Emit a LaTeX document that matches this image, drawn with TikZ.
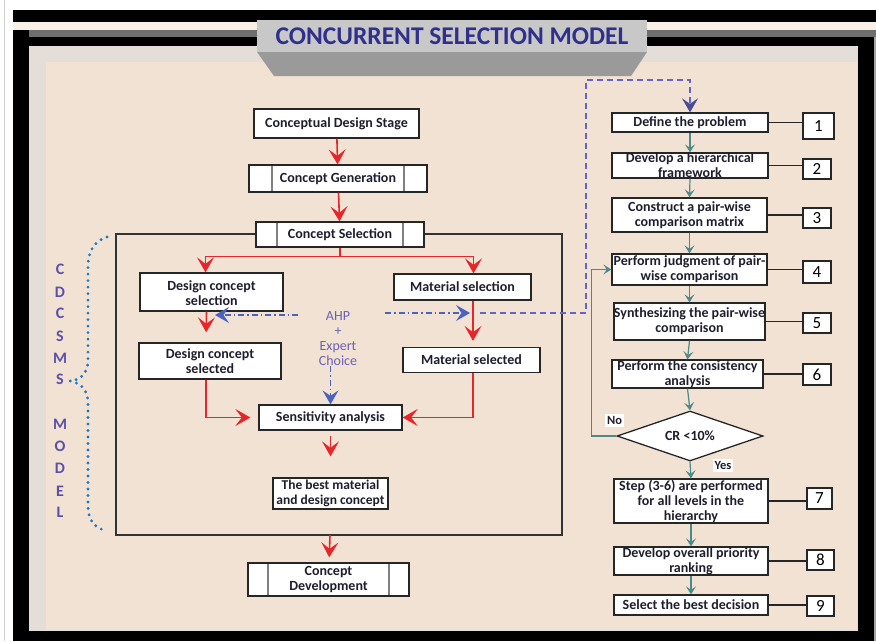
\documentclass[tikz,border=0pt]{standalone}
\usepackage{fontspec}
\setmainfont{Carlito}
\usetikzlibrary{arrows.meta,shapes.geometric,positioning}

\definecolor{pagebg}{HTML}{F2E2D3}
\definecolor{panelgray}{HTML}{E5DDD7}
\definecolor{bandgray}{HTML}{6E6E6E}
\definecolor{titlegray}{HTML}{C8C8C8}
\definecolor{titleshade}{HTML}{9A9A9A}
\definecolor{titleblue}{HTML}{30308C}
\definecolor{arrowred}{HTML}{E8252B}
\definecolor{stepteal}{HTML}{4C8A8A}
\definecolor{ahpblue}{HTML}{4C63BE}
\definecolor{ahptext}{HTML}{6C60B8}
\definecolor{dashblue}{HTML}{6464C8}
\definecolor{letterblue}{HTML}{5A50AA}
\definecolor{bracedot}{HTML}{1F78C0}
\definecolor{boxtext}{HTML}{1E1E2E}

\newcommand{\flowtxt}[2]{\makebox[0pt]{\smash{\raisebox{-0.25em}{\parbox[c]{#1}{\centering #2}}}}}

\tikzset{
  plainbox/.style={draw=black!85, line width=1.3pt, fill=white, inner sep=0pt, text=boxtext,
    font=\fontsize{14}{15}\selectfont\bfseries},
  procbox/.style={plainbox, path picture={
    \draw[gray, line width=1.6pt]
      ([xshift=#1]path picture bounding box.north west) -- ([xshift=#1]path picture bounding box.south west)
      ([xshift=-#1]path picture bounding box.north east) -- ([xshift=-#1]path picture bounding box.south east);}},
  stepbox/.style={plainbox},
  numbox/.style={draw=black!85, line width=1.3pt, fill=white, inner sep=0pt,
    font=\fontsize{17}{17}\selectfont},
  redarrow/.style={draw=arrowred, line width=1.6pt,
    -{Stealth[length=15pt, width=17pt, inset=6.5pt]}},
  tealarrow/.style={draw=stepteal, line width=1.2pt,
    -{Stealth[length=8pt, width=10pt, inset=3.5pt]}},
  ahpline/.style={draw=ahpblue, line width=1.2pt, dash pattern=on 6pt off 3pt on 1.5pt off 3pt,
    -{Stealth[length=14pt, width=16pt, inset=5.5pt]}},
  dashline/.style={draw=dashblue, line width=1.4pt, dash pattern=on 6pt off 4pt},
  sidelet/.style={text=letterblue, font=\fontsize{16}{16}\selectfont\bfseries, inner sep=0pt},
  tagtxt/.style={fill=white, inner sep=2pt, font=\fontsize{12.5}{13}\selectfont\bfseries, text=boxtext}
}

\begin{document}
\begin{tikzpicture}[x=1pt, y=-1pt]
  \useasboundingbox (0,0) rectangle (876,641);
  % frame and background
  \fill[white] (0,0) rectangle (876,641);
  \draw[gray!35] (4,0) -- (4,641);
  \fill[black] (13,10) rectangle (876,641);
  \fill[pagebg!55!white] (13,22) rectangle (876,30);
  \fill[bandgray] (29,30) rectangle (876,37);
  \fill[panelgray] (29,46) rectangle (858,631);
  \fill[pagebg] (46,62) rectangle (857,630);
  \fill[gray!70] (874,37) rectangle (876,641);

  % title
  \fill[titleshade] (257,52) -- (647,52) -- (631,76) -- (274,76) -- cycle;
  \node[fill=titlegray, minimum width=390pt, minimum height=32pt, inner sep=0pt,
    text=titleblue, font=\fontsize{25.5}{26}\selectfont\bfseries] (title) at (452,36)
    {\raisebox{-4pt}{CONCURRENT SELECTION MODEL}};

  % side letters and dotted brace
  \foreach \l/\y [count=\i] in {C/269,D/292,C/313,S/336,M/358,S/379,M/424,O/446,D/468,E/491,L/512}
    \node[sidelet] (let\i) at (60,\y) {\l};
  \draw[bracedot, line width=3.2pt, line cap=round, dash pattern=on 0pt off 6.5pt]
    (107,237) .. controls (94,241) and (88,252) .. (88,266) -- (88,360)
    .. controls (88,373) and (81,380) .. (70,381)
    .. controls (81,383) and (88,390) .. (88,403) -- (88,506)
    .. controls (88,520) and (95,528) .. (104,530);

  % left flow
  \draw[line width=1.3pt, black!80] (116,234) rectangle (562,535);
  \node[plainbox, minimum width=165pt, minimum height=29pt] (cds) at (336.5,123.5)
    {\flowtxt{160pt}{Conceptual Design Stage}};
  \node[procbox=23pt, minimum width=178pt, minimum height=27pt] (cgen) at (338,178.5)
    {\flowtxt{135pt}{Concept Generation}};
  \node[procbox=21pt, minimum width=168pt, minimum height=25pt] (csel) at (340,234.5)
    {\flowtxt{130pt}{Concept Selection}};
  \node[plainbox, minimum width=143pt, minimum height=38pt] (dsel) at (211.5,292)
    {\raisebox{-3pt}{\flowtxt{140pt}{Design concept\\selection}}};
  \node[plainbox, minimum width=137pt, minimum height=26pt] (msel) at (462.5,287)
    {\flowtxt{140pt}{Material selection}};
  \node[plainbox, minimum width=142pt, minimum height=36pt] (dsd) at (210,361)
    {\flowtxt{140pt}{Design concept\\selected}};
  \node[plainbox, minimum width=137pt, minimum height=25pt] (msd) at (471.5,360)
    {\flowtxt{140pt}{Material selected}};
  \node[plainbox, minimum width=143pt, minimum height=25pt] (sens) at (330.5,417.5)
    {\flowtxt{140pt}{Sensitivity analysis}};
  \node[plainbox, minimum width=115pt, minimum height=31pt] (best) at (330.5,493.5)
    {\flowtxt{122pt}{\fontsize{13.5}{15}\selectfont The best material\\and design concept}};
  \node[procbox=20pt, minimum width=161pt, minimum height=33pt] (cdev) at (328.5,579.5)
    {\flowtxt{120pt}{Concept\\Development}};
  \node[text=ahptext, font=\fontsize{14}{15}\selectfont, align=center, inner sep=0pt] (ahp) at (338,339)
    {AHP\\+\\Expert\\Choice};
  \coordinate (fbot) at (330,535);
  \coordinate (ahpL) at (298,315);
  \coordinate (tipL) at (215,315);
  \coordinate (ahpR) at (385,313);
  \coordinate (tipR) at (470,313);
  \coordinate (dashA) at (480,313);
  \coordinate (dashC) at (586,80);

  \draw[redarrow] (cds) -- (cgen);
  \draw[redarrow] (cgen) -- (csel);
  \draw[redarrow] (csel.south) -- ++(0,9) -| ([xshift=-6pt]dsel.north);
  \draw[redarrow] (csel.south) -- ++(0,9) -| ([xshift=11pt]msel.north);
  \draw[redarrow, shorten >=10pt] ([xshift=-5pt]dsel.south) -- ([xshift=-4pt]dsd.north);
  \draw[redarrow, shorten >=6pt] ([xshift=1.5pt]msd.north |- msel.south) -- ([xshift=1.5pt]msd.north);
  \draw[redarrow, shorten >=8pt] ([xshift=-4pt]dsd.south) |- (sens.west);
  \draw[redarrow] ([xshift=1.5pt]msd.south) |- (sens.east);
  \draw[redarrow, shorten <=5pt, shorten >=21pt] (sens) -- (best);
  \draw[redarrow, shorten >=5pt] (fbot) -- (cdev);

  \draw[ahpline] (ahpL) -- (tipL);
  \draw[ahpline] (ahpR) -- (tipR);
  \draw[ahpline] (ahp.south -| sens.north) -- (sens.north);

  % right flow
  \node[stepbox, minimum width=156pt, minimum height=19pt] (s1) at (690,122.5)
    {\flowtxt{165pt}{Define the problem}};
  \node[stepbox, minimum width=156pt, minimum height=25pt] (s2) at (690,165.5)
    {\flowtxt{165pt}{Develop a hierarchical\\framework}};
  \node[stepbox, minimum width=155pt, minimum height=34pt] (s3) at (689.5,215)
    {\flowtxt{165pt}{Construct a pair-wise\\comparison matrix}};
  \node[stepbox, minimum width=155pt, minimum height=31pt] (s4) at (689.5,269.5)
    {\flowtxt{165pt}{Perform judgment of pair-\\wise comparison}};
  \node[stepbox, minimum width=151pt, minimum height=37pt] (s5) at (689.5,321.5)
    {\flowtxt{165pt}{Synthesizing the pair-wise\\comparison}};
  \node[stepbox, minimum width=151pt, minimum height=28pt] (s6) at (687.5,374)
    {\flowtxt{165pt}{Perform the consistency\\analysis}};
  \node[diamond, draw=black!85, line width=1.3pt, fill=white, inner sep=0pt, aspect=2.9, text=boxtext,
    minimum width=146pt, minimum height=50pt, font=\fontsize{14}{15}\selectfont\bfseries] (cr) at (690,436) {CR <10\%};
  \node[stepbox, minimum width=154pt, minimum height=44pt] (s7) at (691,501)
    {\flowtxt{165pt}{Step (3-6) are performed\\for all levels in the\\hierarchy}};
  \node[stepbox, minimum width=154pt, minimum height=28pt] (s8) at (691,561)
    {\flowtxt{165pt}{Develop overall priority\\ranking}};
  \node[stepbox, minimum width=154pt, minimum height=20pt] (s9) at (691,605)
    {\flowtxt{165pt}{Select the best decision}};

  \node[numbox, minimum width=31pt, minimum height=26pt] (n1) at (818.5,126) {1};
  \node[numbox, minimum width=28pt, minimum height=20pt] (n2) at (817,169) {2};
  \node[numbox, minimum width=28pt, minimum height=20pt] (n3) at (817,218) {3};
  \node[numbox, minimum width=28pt, minimum height=22pt] (n4) at (817,272) {4};
  \node[numbox, minimum width=28pt, minimum height=20pt] (n5) at (817,323) {5};
  \node[numbox, minimum width=28pt, minimum height=21pt] (n6) at (817,374.5) {6};
  \node[numbox, minimum width=25pt, minimum height=21pt] (n7) at (819.5,498.5) {7};
  \node[numbox, minimum width=27pt, minimum height=20pt] (n8) at (820.5,560) {8};
  \node[numbox, minimum width=27pt, minimum height=20pt] (n9) at (820.5,606) {9};
  \foreach \i in {1,...,9}
    \draw[line width=1.3pt, black!85] (s\i.east) -- (s\i.east -| n\i.west);

  \foreach \a/\b in {s1/s2,s2/s3,s3/s4,s4/s5,s5/s6,s6/cr,cr/s7,s7/s8,s8/s9}
    \draw[tealarrow] (\a.south) -- (\b.north);
  \draw[tealarrow] (cr.west) -- ++(-25,0) |- (s4.west);
  \node[tagtxt] (no) at (614.5,420.5) {No};
  \node[tagtxt] (yes) at (723,465.5) {Yes};

  \draw[dashline, -{Stealth[length=14pt, width=16pt, inset=5.5pt, color=dashblue!75!black]}]
    (dashA) -| (dashC) -| (s1.north);
\end{tikzpicture}
\end{document}
